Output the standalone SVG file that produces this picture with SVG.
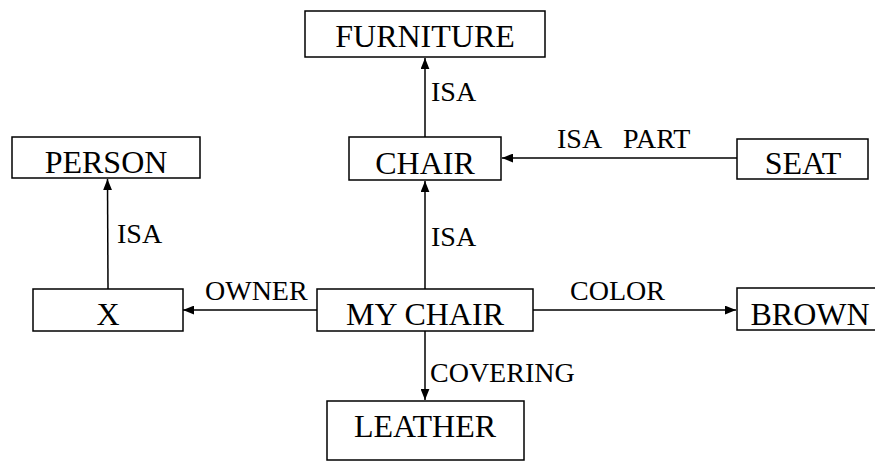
<svg xmlns="http://www.w3.org/2000/svg" width="875" height="465" viewBox="0 0 875 465">
<style>
.box{fill:#fff;stroke:#000;stroke-width:1.5}
.nt{font-family:"Liberation Serif","Times New Roman",serif;font-size:32px;fill:#000;text-anchor:middle}
.lt{font-family:"Liberation Serif","Times New Roman",serif;font-size:28px;fill:#000}
.ln{stroke:#000;stroke-width:1.5;fill:none}
</style>
<defs>
<marker id="ah" viewBox="0 0 10 8" refX="10" refY="4" markerWidth="11" markerHeight="9" markerUnits="userSpaceOnUse" orient="auto">
<path d="M0,0 L10,4 L0,8 z" fill="#000"/>
</marker>
</defs>
<rect width="875" height="465" fill="#fff"/>
<g id="connectors">
<line class="ln" x1="425" y1="137" x2="425" y2="58" marker-end="url(#ah)"/>
<line class="ln" x1="737" y1="158" x2="502" y2="158" marker-end="url(#ah)"/>
<line class="ln" x1="425" y1="289" x2="425" y2="181" marker-end="url(#ah)"/>
<line class="ln" x1="108" y1="289" x2="107.5" y2="179" marker-end="url(#ah)"/>
<line class="ln" x1="317" y1="310" x2="183" y2="310" marker-end="url(#ah)"/>
<line class="ln" x1="533" y1="310" x2="736" y2="310" marker-end="url(#ah)"/>
<line class="ln" x1="425" y1="331" x2="425" y2="400" marker-end="url(#ah)"/>
<text class="lt" x="431" y="101">ISA</text>
<text class="lt" x="557" y="148">ISA</text>
<text class="lt" x="623" y="148">PART</text>
<text class="lt" x="431" y="246">ISA</text>
<text class="lt" x="117" y="243">ISA</text>
<text class="lt" x="205" y="300">OWNER</text>
<text class="lt" x="570" y="300">COLOR</text>
<text class="lt" x="430" y="382">COVERING</text>
</g>
<g id="furniture"><rect class="box" x="305" y="11" width="240" height="46"/><text class="nt" x="425" y="47">FURNITURE</text></g>
<g id="chair"><rect class="box" x="349" y="137" width="152" height="43"/><text class="nt" x="425" y="174">CHAIR</text></g>
<g id="person"><rect class="box" x="12" y="137" width="188" height="41"/><text class="nt" x="106" y="173">PERSON</text></g>
<g id="seat"><rect class="box" x="737" y="139" width="131" height="40"/><text class="nt" x="803" y="174">SEAT</text></g>
<g id="x"><rect class="box" x="33" y="289" width="150" height="42"/><text class="nt" x="108" y="325">X</text></g>
<g id="mychair"><rect class="box" x="317" y="289" width="216" height="42"/><text class="nt" x="425" y="325">MY CHAIR</text></g>
<g id="brown"><rect class="box" x="737" y="288" width="146" height="42"/><text class="nt" x="810" y="325">BROWN</text></g>
<g id="leather"><rect class="box" x="327" y="401" width="197" height="59"/><text class="nt" x="425" y="437">LEATHER</text></g>
</svg>
